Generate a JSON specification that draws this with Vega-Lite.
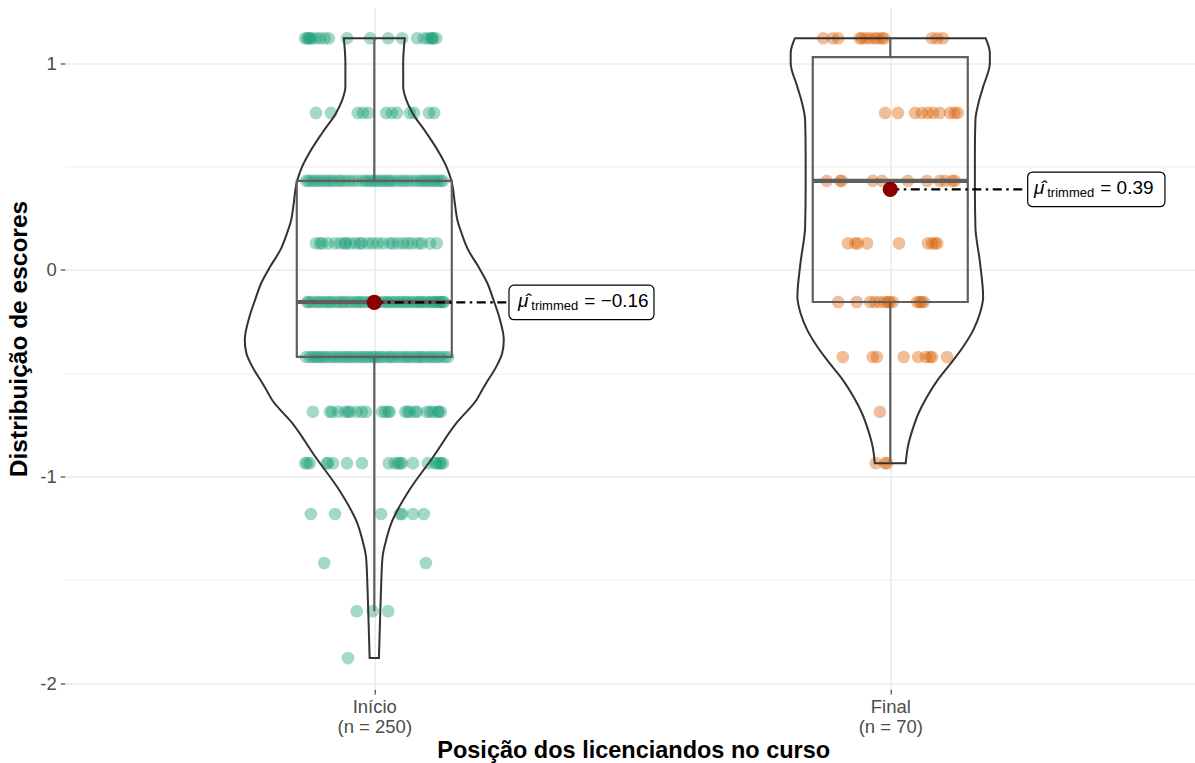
{
"$schema": "https://vega.github.io/schema/vega-lite/v6.json",
"width": 1130, "height": 682,
"autosize": {"type": "none"},
"padding": {"left": 64.7, "top": 7.5, "right": 0, "bottom": 73.5},
"background": "white",
"config": {"view": {"stroke": null}, "font": "Liberation Sans", "axis": {"domain": false, "labelFont": "Liberation Sans", "titleFont": "Liberation Sans"}},
"datasets": {
"pts": [
{"g":"Início","y":1.121,"x":0.866},{"g":"Início","y":1.121,"x":0.870},{"g":"Início","y":1.121,"x":0.873},{"g":"Início","y":1.121,"x":0.875},{"g":"Início","y":1.121,"x":0.879},{"g":"Início","y":1.121,"x":0.887},{"g":"Início","y":1.121,"x":0.895},{"g":"Início","y":1.121,"x":0.904},{"g":"Início","y":1.121,"x":0.912},{"g":"Início","y":1.121,"x":0.947},{"g":"Início","y":1.121,"x":0.992},{"g":"Início","y":1.121,"x":1.027},{"g":"Início","y":1.121,"x":1.054},{"g":"Início","y":1.121,"x":1.083},{"g":"Início","y":1.121,"x":1.096},{"g":"Início","y":1.121,"x":1.104},{"g":"Início","y":1.121,"x":1.110},{"g":"Início","y":1.121,"x":1.112},{"g":"Início","y":1.121,"x":1.114},{"g":"Início","y":1.121,"x":1.120},
{"g":"Início","y":0.76,"x":0.887},{"g":"Início","y":0.76,"x":0.916},{"g":"Início","y":0.76,"x":0.968},{"g":"Início","y":0.76,"x":0.978},{"g":"Início","y":0.76,"x":0.988},{"g":"Início","y":0.76,"x":1.023},{"g":"Início","y":0.76,"x":1.034},{"g":"Início","y":0.76,"x":1.044},{"g":"Início","y":0.76,"x":1.069},{"g":"Início","y":0.76,"x":1.077},{"g":"Início","y":0.76,"x":1.106},{"g":"Início","y":0.76,"x":1.116},
{"g":"Início","y":0.431,"x":0.868},{"g":"Início","y":0.431,"x":0.873},{"g":"Início","y":0.431,"x":0.879},{"g":"Início","y":0.431,"x":0.885},{"g":"Início","y":0.431,"x":0.891},{"g":"Início","y":0.431,"x":0.897},{"g":"Início","y":0.431,"x":0.904},{"g":"Início","y":0.431,"x":0.910},{"g":"Início","y":0.431,"x":0.916},{"g":"Início","y":0.431,"x":0.922},{"g":"Início","y":0.431,"x":0.930},{"g":"Início","y":0.431,"x":0.935},{"g":"Início","y":0.431,"x":0.943},{"g":"Início","y":0.431,"x":0.951},{"g":"Início","y":0.431,"x":0.959},{"g":"Início","y":0.431,"x":0.968},{"g":"Início","y":0.431,"x":0.978},{"g":"Início","y":0.431,"x":0.984},{"g":"Início","y":0.431,"x":0.990},{"g":"Início","y":0.431,"x":0.996},{"g":"Início","y":0.431,"x":1.001},{"g":"Início","y":0.431,"x":1.007},{"g":"Início","y":0.431,"x":1.013},{"g":"Início","y":0.431,"x":1.019},{"g":"Início","y":0.431,"x":1.025},{"g":"Início","y":0.431,"x":1.030},{"g":"Início","y":0.431,"x":1.036},{"g":"Início","y":0.431,"x":1.044},{"g":"Início","y":0.431,"x":1.052},{"g":"Início","y":0.431,"x":1.058},{"g":"Início","y":0.431,"x":1.065},{"g":"Início","y":0.431,"x":1.073},{"g":"Início","y":0.431,"x":1.081},{"g":"Início","y":0.431,"x":1.089},{"g":"Início","y":0.431,"x":1.094},{"g":"Início","y":0.431,"x":1.100},{"g":"Início","y":0.431,"x":1.106},{"g":"Início","y":0.431,"x":1.112},{"g":"Início","y":0.431,"x":1.118},{"g":"Início","y":0.431,"x":1.123},{"g":"Início","y":0.431,"x":1.129},{"g":"Início","y":0.431,"x":1.133},
{"g":"Início","y":0.129,"x":0.887},{"g":"Início","y":0.129,"x":0.895},{"g":"Início","y":0.129,"x":0.899},{"g":"Início","y":0.129,"x":0.910},{"g":"Início","y":0.129,"x":0.924},{"g":"Início","y":0.129,"x":0.934},{"g":"Início","y":0.129,"x":0.943},{"g":"Início","y":0.129,"x":0.945},{"g":"Início","y":0.129,"x":0.953},{"g":"Início","y":0.129,"x":0.963},{"g":"Início","y":0.129,"x":0.972},{"g":"Início","y":0.129,"x":0.976},{"g":"Início","y":0.129,"x":0.988},{"g":"Início","y":0.129,"x":0.997},{"g":"Início","y":0.129,"x":1.007},{"g":"Início","y":0.129,"x":1.017},{"g":"Início","y":0.129,"x":1.030},{"g":"Início","y":0.129,"x":1.036},{"g":"Início","y":0.129,"x":1.046},{"g":"Início","y":0.129,"x":1.056},{"g":"Início","y":0.129,"x":1.065},{"g":"Início","y":0.129,"x":1.073},{"g":"Início","y":0.129,"x":1.085},{"g":"Início","y":0.129,"x":1.092},{"g":"Início","y":0.129,"x":1.108},{"g":"Início","y":0.129,"x":1.121},
{"g":"Início","y":-0.155,"x":0.870},{"g":"Início","y":-0.155,"x":0.873},{"g":"Início","y":-0.155,"x":0.879},{"g":"Início","y":-0.155,"x":0.887},{"g":"Início","y":-0.155,"x":0.893},{"g":"Início","y":-0.155,"x":0.899},{"g":"Início","y":-0.155,"x":0.906},{"g":"Início","y":-0.155,"x":0.912},{"g":"Início","y":-0.155,"x":0.916},{"g":"Início","y":-0.155,"x":0.924},{"g":"Início","y":-0.155,"x":0.930},{"g":"Início","y":-0.155,"x":0.937},{"g":"Início","y":-0.155,"x":0.941},{"g":"Início","y":-0.155,"x":0.949},{"g":"Início","y":-0.155,"x":0.955},{"g":"Início","y":-0.155,"x":0.963},{"g":"Início","y":-0.155,"x":0.968},{"g":"Início","y":-0.155,"x":0.974},{"g":"Início","y":-0.155,"x":0.980},{"g":"Início","y":-0.155,"x":0.988},{"g":"Início","y":-0.155,"x":0.994},{"g":"Início","y":-0.155,"x":1.003},{"g":"Início","y":-0.155,"x":1.009},{"g":"Início","y":-0.155,"x":1.017},{"g":"Início","y":-0.155,"x":1.023},{"g":"Início","y":-0.155,"x":1.028},{"g":"Início","y":-0.155,"x":1.034},{"g":"Início","y":-0.155,"x":1.040},{"g":"Início","y":-0.155,"x":1.046},{"g":"Início","y":-0.155,"x":1.052},{"g":"Início","y":-0.155,"x":1.058},{"g":"Início","y":-0.155,"x":1.063},{"g":"Início","y":-0.155,"x":1.069},{"g":"Início","y":-0.155,"x":1.075},{"g":"Início","y":-0.155,"x":1.081},{"g":"Início","y":-0.155,"x":1.087},{"g":"Início","y":-0.155,"x":1.090},{"g":"Início","y":-0.155,"x":1.096},{"g":"Início","y":-0.155,"x":1.102},{"g":"Início","y":-0.155,"x":1.108},{"g":"Início","y":-0.155,"x":1.112},{"g":"Início","y":-0.155,"x":1.118},{"g":"Início","y":-0.155,"x":1.121},{"g":"Início","y":-0.155,"x":1.125},{"g":"Início","y":-0.155,"x":1.129},{"g":"Início","y":-0.155,"x":1.133},{"g":"Início","y":-0.155,"x":1.135},
{"g":"Início","y":-0.421,"x":0.868},{"g":"Início","y":-0.421,"x":0.875},{"g":"Início","y":-0.421,"x":0.881},{"g":"Início","y":-0.421,"x":0.887},{"g":"Início","y":-0.421,"x":0.891},{"g":"Início","y":-0.421,"x":0.897},{"g":"Início","y":-0.421,"x":0.903},{"g":"Início","y":-0.421,"x":0.908},{"g":"Início","y":-0.421,"x":0.916},{"g":"Início","y":-0.421,"x":0.922},{"g":"Início","y":-0.421,"x":0.928},{"g":"Início","y":-0.421,"x":0.934},{"g":"Início","y":-0.421,"x":0.941},{"g":"Início","y":-0.421,"x":0.947},{"g":"Início","y":-0.421,"x":0.953},{"g":"Início","y":-0.421,"x":0.959},{"g":"Início","y":-0.421,"x":0.965},{"g":"Início","y":-0.421,"x":0.972},{"g":"Início","y":-0.421,"x":0.978},{"g":"Início","y":-0.421,"x":0.984},{"g":"Início","y":-0.421,"x":0.990},{"g":"Início","y":-0.421,"x":0.996},{"g":"Início","y":-0.421,"x":1.001},{"g":"Início","y":-0.421,"x":1.007},{"g":"Início","y":-0.421,"x":1.013},{"g":"Início","y":-0.421,"x":1.019},{"g":"Início","y":-0.421,"x":1.027},{"g":"Início","y":-0.421,"x":1.032},{"g":"Início","y":-0.421,"x":1.038},{"g":"Início","y":-0.421,"x":1.046},{"g":"Início","y":-0.421,"x":1.052},{"g":"Início","y":-0.421,"x":1.060},{"g":"Início","y":-0.421,"x":1.065},{"g":"Início","y":-0.421,"x":1.071},{"g":"Início","y":-0.421,"x":1.079},{"g":"Início","y":-0.421,"x":1.085},{"g":"Início","y":-0.421,"x":1.090},{"g":"Início","y":-0.421,"x":1.096},{"g":"Início","y":-0.421,"x":1.104},{"g":"Início","y":-0.421,"x":1.110},{"g":"Início","y":-0.421,"x":1.116},{"g":"Início","y":-0.421,"x":1.123},{"g":"Início","y":-0.421,"x":1.129},{"g":"Início","y":-0.421,"x":1.137},{"g":"Início","y":-0.421,"x":1.143},
{"g":"Início","y":-0.686,"x":0.881},{"g":"Início","y":-0.686,"x":0.914},{"g":"Início","y":-0.686,"x":0.918},{"g":"Início","y":-0.686,"x":0.930},{"g":"Início","y":-0.686,"x":0.943},{"g":"Início","y":-0.686,"x":0.949},{"g":"Início","y":-0.686,"x":0.953},{"g":"Início","y":-0.686,"x":0.966},{"g":"Início","y":-0.686,"x":0.976},{"g":"Início","y":-0.686,"x":0.984},{"g":"Início","y":-0.686,"x":1.015},{"g":"Início","y":-0.686,"x":1.021},{"g":"Início","y":-0.686,"x":1.027},{"g":"Início","y":-0.686,"x":1.030},{"g":"Início","y":-0.686,"x":1.060},{"g":"Início","y":-0.686,"x":1.065},{"g":"Início","y":-0.686,"x":1.069},{"g":"Início","y":-0.686,"x":1.079},{"g":"Início","y":-0.686,"x":1.083},{"g":"Início","y":-0.686,"x":1.102},{"g":"Início","y":-0.686,"x":1.108},{"g":"Início","y":-0.686,"x":1.114},{"g":"Início","y":-0.686,"x":1.123},{"g":"Início","y":-0.686,"x":1.125},{"g":"Início","y":-0.686,"x":1.129},
{"g":"Início","y":-0.935,"x":0.866},{"g":"Início","y":-0.935,"x":0.870},{"g":"Início","y":-0.935,"x":0.875},{"g":"Início","y":-0.935,"x":0.908},{"g":"Início","y":-0.935,"x":0.910},{"g":"Início","y":-0.935,"x":0.920},{"g":"Início","y":-0.935,"x":0.947},{"g":"Início","y":-0.935,"x":0.976},{"g":"Início","y":-0.935,"x":1.028},{"g":"Início","y":-0.935,"x":1.040},{"g":"Início","y":-0.935,"x":1.046},{"g":"Início","y":-0.935,"x":1.050},{"g":"Início","y":-0.935,"x":1.054},{"g":"Início","y":-0.935,"x":1.075},{"g":"Início","y":-0.935,"x":1.104},{"g":"Início","y":-0.935,"x":1.118},{"g":"Início","y":-0.935,"x":1.121},{"g":"Início","y":-0.935,"x":1.127},{"g":"Início","y":-0.935,"x":1.129},{"g":"Início","y":-0.935,"x":1.133},
{"g":"Início","y":-1.181,"x":0.877},{"g":"Início","y":-1.181,"x":0.924},{"g":"Início","y":-1.181,"x":1.013},{"g":"Início","y":-1.181,"x":1.050},{"g":"Início","y":-1.181,"x":1.054},{"g":"Início","y":-1.181,"x":1.075},{"g":"Início","y":-1.181,"x":1.096},
{"g":"Início","y":-1.418,"x":0.903},{"g":"Início","y":-1.418,"x":1.100},
{"g":"Início","y":-1.651,"x":0.966},{"g":"Início","y":-1.651,"x":0.997},{"g":"Início","y":-1.651,"x":1.027},
{"g":"Início","y":-1.878,"x":0.949},
{"g":"Final","y":1.121,"x":1.870},{"g":"Final","y":1.121,"x":1.889},{"g":"Final","y":1.121,"x":1.899},{"g":"Final","y":1.121,"x":1.941},{"g":"Final","y":1.121,"x":1.945},{"g":"Final","y":1.121,"x":1.953},{"g":"Final","y":1.121,"x":1.961},{"g":"Final","y":1.121,"x":1.970},{"g":"Final","y":1.121,"x":1.976},{"g":"Final","y":1.121,"x":1.984},{"g":"Final","y":1.121,"x":1.988},{"g":"Final","y":1.121,"x":2.081},{"g":"Final","y":1.121,"x":2.091},{"g":"Final","y":1.121,"x":2.102},
{"g":"Final","y":0.76,"x":1.990},{"g":"Final","y":0.76,"x":2.015},{"g":"Final","y":0.76,"x":2.048},{"g":"Final","y":0.76,"x":2.061},{"g":"Final","y":0.76,"x":2.073},{"g":"Final","y":0.76,"x":2.083},{"g":"Final","y":0.76,"x":2.096},{"g":"Final","y":0.76,"x":2.116},{"g":"Final","y":0.76,"x":2.125},{"g":"Final","y":0.76,"x":2.131},
{"g":"Final","y":0.431,"x":1.877},{"g":"Final","y":0.431,"x":1.903},{"g":"Final","y":0.431,"x":1.906},{"g":"Final","y":0.431,"x":1.966},{"g":"Final","y":0.431,"x":1.984},{"g":"Final","y":0.431,"x":2.034},{"g":"Final","y":0.431,"x":2.071},{"g":"Final","y":0.431,"x":2.096},{"g":"Final","y":0.431,"x":2.106},{"g":"Final","y":0.431,"x":2.120},{"g":"Final","y":0.431,"x":2.125},
{"g":"Final","y":0.129,"x":1.918},{"g":"Final","y":0.129,"x":1.932},{"g":"Final","y":0.129,"x":1.937},{"g":"Final","y":0.129,"x":1.955},{"g":"Final","y":0.129,"x":2.017},{"g":"Final","y":0.129,"x":2.073},{"g":"Final","y":0.129,"x":2.081},{"g":"Final","y":0.129,"x":2.087},{"g":"Final","y":0.129,"x":2.091},
{"g":"Final","y":-0.155,"x":1.899},{"g":"Final","y":-0.155,"x":1.935},{"g":"Final","y":-0.155,"x":1.961},{"g":"Final","y":-0.155,"x":1.970},{"g":"Final","y":-0.155,"x":1.980},{"g":"Final","y":-0.155,"x":1.990},{"g":"Final","y":-0.155,"x":1.996},{"g":"Final","y":-0.155,"x":1.999},{"g":"Final","y":-0.155,"x":2.005},{"g":"Final","y":-0.155,"x":2.052},{"g":"Final","y":-0.155,"x":2.057},{"g":"Final","y":-0.155,"x":2.061},{"g":"Final","y":-0.155,"x":2.065},
{"g":"Final","y":-0.421,"x":1.908},{"g":"Final","y":-0.421,"x":1.966},{"g":"Final","y":-0.421,"x":1.974},{"g":"Final","y":-0.421,"x":2.026},{"g":"Final","y":-0.421,"x":2.054},{"g":"Final","y":-0.421,"x":2.069},{"g":"Final","y":-0.421,"x":2.077},{"g":"Final","y":-0.421,"x":2.081},{"g":"Final","y":-0.421,"x":2.110},
{"g":"Final","y":-0.686,"x":1.980},
{"g":"Final","y":-0.935,"x":1.972},{"g":"Final","y":-0.935,"x":1.990},{"g":"Final","y":-0.935,"x":1.994}
],
"vio": [
{"g":"Início","y":1.121,"lo":0.941,"hi":1.059},{"g":"Início","y":1.002,"lo":0.944,"hi":1.056},{"g":"Início","y":0.886,"lo":0.944,"hi":1.056},{"g":"Início","y":0.823,"lo":0.938,"hi":1.062},{"g":"Início","y":0.760,"lo":0.926,"hi":1.074},{"g":"Início","y":0.663,"lo":0.899,"hi":1.101},{"g":"Início","y":0.566,"lo":0.874,"hi":1.126},{"g":"Início","y":0.499,"lo":0.860,"hi":1.140},{"g":"Início","y":0.436,"lo":0.851,"hi":1.149},{"g":"Início","y":0.305,"lo":0.843,"hi":1.157},{"g":"Início","y":0.242,"lo":0.839,"hi":1.161},{"g":"Início","y":0.179,"lo":0.831,"hi":1.169},{"g":"Início","y":0.097,"lo":0.818,"hi":1.182},{"g":"Início","y":0.015,"lo":0.798,"hi":1.202},{"g":"Início","y":-0.063,"lo":0.781,"hi":1.219},{"g":"Início","y":-0.145,"lo":0.769,"hi":1.231},{"g":"Início","y":-0.227,"lo":0.758,"hi":1.242},{"g":"Início","y":-0.339,"lo":0.749,"hi":1.251},{"g":"Início","y":-0.402,"lo":0.752,"hi":1.248},{"g":"Início","y":-0.470,"lo":0.764,"hi":1.236},{"g":"Início","y":-0.547,"lo":0.783,"hi":1.217},{"g":"Início","y":-0.581,"lo":0.791,"hi":1.209},{"g":"Início","y":-0.629,"lo":0.802,"hi":1.198},{"g":"Início","y":-0.741,"lo":0.841,"hi":1.159},{"g":"Início","y":-0.905,"lo":0.886,"hi":1.114},{"g":"Início","y":-1.065,"lo":0.932,"hi":1.068},{"g":"Início","y":-1.225,"lo":0.967,"hi":1.033},{"g":"Início","y":-1.307,"lo":0.977,"hi":1.023},{"g":"Início","y":-1.389,"lo":0.984,"hi":1.016},{"g":"Início","y":-1.549,"lo":0.987,"hi":1.013},{"g":"Início","y":-1.709,"lo":0.989,"hi":1.011},{"g":"Início","y":-1.878,"lo":0.991,"hi":1.009},
{"g":"Final","y":1.121,"lo":1.815,"hi":2.185},{"g":"Final","y":1.050,"lo":1.807,"hi":2.193},{"g":"Final","y":1.002,"lo":1.807,"hi":2.193},{"g":"Final","y":0.886,"lo":1.820,"hi":2.180},{"g":"Final","y":0.808,"lo":1.829,"hi":2.171},{"g":"Final","y":0.726,"lo":1.835,"hi":2.165},{"g":"Final","y":0.566,"lo":1.836,"hi":2.164},{"g":"Final","y":0.402,"lo":1.836,"hi":2.164},{"g":"Final","y":0.208,"lo":1.835,"hi":2.165},{"g":"Final","y":0.034,"lo":1.826,"hi":2.174},{"g":"Final","y":-0.131,"lo":1.820,"hi":2.180},{"g":"Final","y":-0.208,"lo":1.826,"hi":2.174},{"g":"Final","y":-0.290,"lo":1.839,"hi":2.161},{"g":"Final","y":-0.373,"lo":1.859,"hi":2.141},{"g":"Final","y":-0.450,"lo":1.882,"hi":2.118},{"g":"Final","y":-0.532,"lo":1.908,"hi":2.092},{"g":"Final","y":-0.615,"lo":1.929,"hi":2.071},{"g":"Final","y":-0.692,"lo":1.945,"hi":2.055},{"g":"Final","y":-0.774,"lo":1.957,"hi":2.043},{"g":"Final","y":-0.857,"lo":1.966,"hi":2.034},{"g":"Final","y":-0.935,"lo":1.970,"hi":2.030}
],
"box": [
{"g":"Início","c":1,"q1":-0.421,"med":-0.155,"q3":0.431,"wmin":-1.651,"wmax":1.121},
{"g":"Final","c":2,"q1":-0.155,"med":0.431,"q3":1.03,"wmin":-0.935,"wmax":1.121}
],
"mean": [
{"g":"Início","c":1,"m":-0.157,"lab":"= −0.16"},
{"g":"Final","c":2,"m":0.39,"lab":"= 0.39"}
]
},
"layer": [
{"data": {"name": "pts"},
 "mark": {"type": "circle", "size": 160, "opacity": 0.4},
 "encoding": {
  "x": {"field": "x", "type": "quantitative", "title": "Posição dos licenciandos no curso",
        "scale": {"domain": [0.4, 2.59], "nice": false, "zero": false},
        "axis": {"values": [1, 2], "labelExpr": "datum.value == 1 ? ['Início', '(n = 250)'] : ['Final', '(n = 70)']",
                 "labelFontSize": 18.5, "labelLineHeight": 20, "labelColor": "#4D4D4D", "labelPadding": 4,
                 "tickSize": 4.5, "tickColor": "#333333", "tickWidth": 1.1,
                 "grid": true, "gridColor": "#EBEBEB", "gridWidth": 1.6,
                 "titleFontSize": 23.5, "titleFontWeight": "bold", "titleColor": "#000000",
                 "titleX": 568.5, "titleY": 68.5, "titleAlign": "center", "titleBaseline": "alphabetic"}},
  "y": {"field": "y", "type": "quantitative", "title": "Distribuição de escores",
        "scale": {"domain": [-2.03, 1.27], "nice": false, "zero": false},
        "axis": {"values": [-2, -1.5, -1, -0.5, 0, 0.5, 1],
                 "labelExpr": "datum.value % 1 == 0 ? '' + datum.value : ''",
                 "labelFontSize": 18.5, "labelColor": "#4D4D4D", "labelPadding": 4,
                 "tickSize": 4.5, "tickColor": "#333333", "tickWidth": 1.1,
                 "tickOpacity": {"condition": {"test": "datum.value % 1 != 0", "value": 0}, "value": 1},
                 "grid": true, "gridColor": "#EBEBEB",
                 "gridWidth": {"condition": {"test": "datum.value % 1 != 0", "value": 0.9}, "value": 1.6},
                 "titleFontSize": 24.5, "titleFontWeight": "bold", "titleColor": "#000000",
                 "titleX": -44.7, "titleY": 331, "titleAlign": "center", "titleBaseline": "middle", "titleAngle": 270}},
  "color": {"field": "g", "type": "nominal", "scale": {"domain": ["Início", "Final"], "range": ["#1B9E77", "#D95F02"]}, "legend": null}
 }},
{"data": {"name": "vio"},
 "mark": {"type": "area", "orient": "horizontal", "interpolate": "monotone", "fill": "white", "fillOpacity": 0, "stroke": "#333333", "strokeWidth": 2},
 "encoding": {
  "y": {"field": "y", "type": "quantitative", "title": "Distribuição de escores"},
  "x": {"field": "lo", "type": "quantitative", "title": "Posição dos licenciandos no curso"},
  "x2": {"field": "hi"},
  "detail": {"field": "g"}
 }},
{"data": {"name": "box"},
 "mark": {"type": "rect", "filled": false, "color": "#5F5F5F", "stroke": "#5F5F5F", "strokeWidth": 2.2, "xOffset": -77.5, "x2Offset": 77.5},
 "encoding": {
  "x": {"field": "c", "type": "quantitative", "title": "Posição dos licenciandos no curso"},
  "x2": {"field": "c"},
  "y": {"field": "q1", "type": "quantitative", "title": "Distribuição de escores"},
  "y2": {"field": "q3"}
 }},
{"data": {"name": "box"},
 "mark": {"type": "rule", "color": "#5F5F5F", "strokeWidth": 2.2},
 "encoding": {
  "x": {"field": "c", "type": "quantitative", "title": "Posição dos licenciandos no curso"},
  "y": {"field": "q3", "type": "quantitative", "title": "Distribuição de escores"},
  "y2": {"field": "wmax"}
 }},
{"data": {"name": "box"},
 "mark": {"type": "rule", "color": "#5F5F5F", "strokeWidth": 2.2},
 "encoding": {
  "x": {"field": "c", "type": "quantitative", "title": "Posição dos licenciandos no curso"},
  "y": {"field": "wmin", "type": "quantitative", "title": "Distribuição de escores"},
  "y2": {"field": "q1"}
 }},
{"data": {"name": "box"},
 "mark": {"type": "rule", "color": "#5F5F5F", "strokeWidth": 4.2, "xOffset": -77.5, "x2Offset": 77.5},
 "encoding": {
  "x": {"field": "c", "type": "quantitative", "title": "Posição dos licenciandos no curso"},
  "x2": {"field": "c"},
  "y": {"field": "med", "type": "quantitative", "title": "Distribuição de escores"}
 }},
{"data": {"name": "mean"},
 "mark": {"type": "rule", "color": "#000000", "strokeWidth": 2.3, "strokeDash": [9, 4.5, 2.5, 4.5], "x2Offset": 136},
 "encoding": {
  "x": {"field": "c", "type": "quantitative", "title": "Posição dos licenciandos no curso"},
  "x2": {"field": "c"},
  "y": {"field": "m", "type": "quantitative", "title": "Distribuição de escores"}
 }},
{"data": {"name": "mean"},
 "mark": {"type": "circle", "size": 235, "color": "#8B0000", "opacity": 1},
 "encoding": {
  "x": {"field": "c", "type": "quantitative", "title": "Posição dos licenciandos no curso"},
  "y": {"field": "m", "type": "quantitative", "title": "Distribuição de escores"}
 }},
{"data": {"name": "mean"},
 "transform": [{"filter": "datum.g == 'Início'"}],
 "mark": {"type": "rect", "fill": "white", "stroke": "#000000", "strokeWidth": 1.2, "cornerRadius": 5, "xOffset": 134.7, "x2Offset": 279.7, "yOffset": -17.3, "y2Offset": 17.3},
 "encoding": {
  "x": {"field": "c", "type": "quantitative", "title": "Posição dos licenciandos no curso"},
  "x2": {"field": "c"},
  "y": {"field": "m", "type": "quantitative", "title": "Distribuição de escores"},
  "y2": {"field": "m"}
 }},
{"data": {"name": "mean"},
 "transform": [{"filter": "datum.g == 'Final'"}],
 "mark": {"type": "rect", "fill": "white", "stroke": "#000000", "strokeWidth": 1.2, "cornerRadius": 5, "xOffset": 137.4, "x2Offset": 274.7, "yOffset": -17.3, "y2Offset": 17.3},
 "encoding": {
  "x": {"field": "c", "type": "quantitative", "title": "Posição dos licenciandos no curso"},
  "x2": {"field": "c"},
  "y": {"field": "m", "type": "quantitative", "title": "Distribuição de escores"},
  "y2": {"field": "m"}
 }},
{"data": {"name": "mean"},
 "mark": {"type": "text", "text": "μ̂", "font": "Liberation Sans", "fontSize": 19, "fontStyle": "italic", "align": "left", "baseline": "alphabetic", "dx": 143.7, "dy": 5, "color": "#000000"},
 "encoding": {
  "x": {"field": "c", "type": "quantitative", "title": "Posição dos licenciandos no curso"},
  "y": {"field": "m", "type": "quantitative", "title": "Distribuição de escores"}
 }},
{"data": {"name": "mean"},
 "mark": {"type": "text", "text": "trimmed", "font": "Liberation Sans", "fontSize": 13, "align": "left", "baseline": "alphabetic", "dx": 157, "dy": 7.5, "color": "#000000"},
 "encoding": {
  "x": {"field": "c", "type": "quantitative", "title": "Posição dos licenciandos no curso"},
  "y": {"field": "m", "type": "quantitative", "title": "Distribuição de escores"}
 }},
{"data": {"name": "mean"},
 "mark": {"type": "text", "font": "Liberation Sans", "fontSize": 19, "align": "left", "baseline": "alphabetic", "dx": 210, "dy": 5, "color": "#000000"},
 "encoding": {
  "x": {"field": "c", "type": "quantitative", "title": "Posição dos licenciandos no curso"},
  "y": {"field": "m", "type": "quantitative", "title": "Distribuição de escores"},
  "text": {"field": "lab"}
 }}
]
}
